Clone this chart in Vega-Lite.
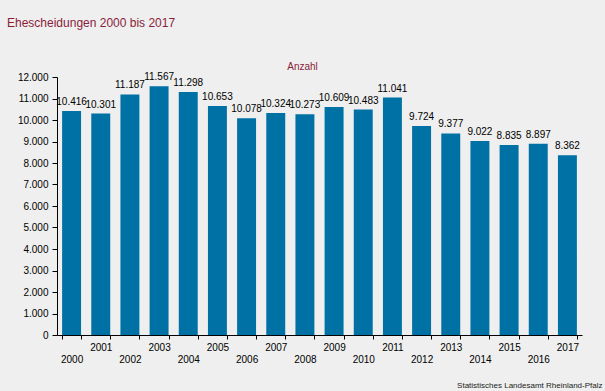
{
  "$schema": "https://vega.github.io/schema/vega-lite/v6.json",
  "width": 525,
  "height": 258,
  "autosize": {"type": "none"},
  "padding": {"left": 57, "top": 77, "right": 23, "bottom": 56},
  "background": "#eeefee",
  "config": {
    "locale": {"number": {"decimal": ",", "thousands": ".", "grouping": [3], "currency": ["", " €"]}},
    "view": {"stroke": null},
    "font": "Liberation Sans"
  },
  "title": {
    "text": "Ehescheidungen 2000 bis 2017",
    "anchor": "start",
    "frame": "group",
    "orient": "top",
    "font": "Liberation Sans",
    "fontSize": 12,
    "fontWeight": "normal",
    "color": "#8b1d3b",
    "dx": -50,
    "dy": -27
  },
  "data": {
    "values": [
      {"year": 2000, "count": 10416},
      {"year": 2001, "count": 10301},
      {"year": 2002, "count": 11187},
      {"year": 2003, "count": 11567},
      {"year": 2004, "count": 11298},
      {"year": 2005, "count": 10653},
      {"year": 2006, "count": 10078},
      {"year": 2007, "count": 10324},
      {"year": 2008, "count": 10273},
      {"year": 2009, "count": 10609},
      {"year": 2010, "count": 10483},
      {"year": 2011, "count": 11041},
      {"year": 2012, "count": 9724},
      {"year": 2013, "count": 9377},
      {"year": 2014, "count": 9022},
      {"year": 2015, "count": 8835},
      {"year": 2016, "count": 8897},
      {"year": 2017, "count": 8362}
    ]
  },
  "encoding": {
    "x": {
      "field": "year",
      "type": "ordinal",
      "scale": {"paddingInner": 0.35, "paddingOuter": 0.175},
      "axis": {
        "title": "Statistisches Landesamt Rheinland-Pfalz",
        "titleFontSize": 8,
        "titleFontWeight": "normal",
        "titleColor": "#222222",
        "titleAnchor": null,
        "titleAlign": "right",
        "titleBaseline": "alphabetic",
        "titleX": 545,
        "titleY": 52,
        "labelAngle": 0,
        "labelFontSize": 10,
        "labelColor": "#000000",
        "labelPadding": 3,
        "labelLineHeight": 12.5,
        "labelOverlap": false,
        "labelExpr": "datum.value % 2 == 0 ? ['', datum.label] : datum.label",
        "tickBand": "extent",
        "tickSize": 4,
        "tickColor": "#000000",
        "domainColor": "#000000",
        "grid": false
      }
    },
    "y": {
      "field": "count",
      "type": "quantitative",
      "scale": {"domain": [0, 12000], "nice": false},
      "axis": {
        "title": "Anzahl",
        "titleAngle": 0,
        "titleFontSize": 10,
        "titleFontWeight": "normal",
        "titleColor": "#8b1d3b",
        "titleAnchor": null,
        "titleAlign": "center",
        "titleBaseline": "alphabetic",
        "titleX": 245,
        "titleY": -8,
        "values": [0, 1000, 2000, 3000, 4000, 5000, 6000, 7000, 8000, 9000, 10000, 11000, 12000],
        "format": ",d",
        "labelFontSize": 10,
        "labelColor": "#000000",
        "labelPadding": 4,
        "tickSize": 5,
        "tickColor": "#000000",
        "domainColor": "#000000",
        "grid": false
      }
    }
  },
  "layer": [
    {"mark": {"type": "bar", "color": "#0071a4"}},
    {
      "mark": {"type": "text", "baseline": "alphabetic", "dy": -6, "fontSize": 10, "color": "#000000"},
      "encoding": {"text": {"field": "count", "type": "quantitative", "format": ",d"}}
    }
  ]
}
